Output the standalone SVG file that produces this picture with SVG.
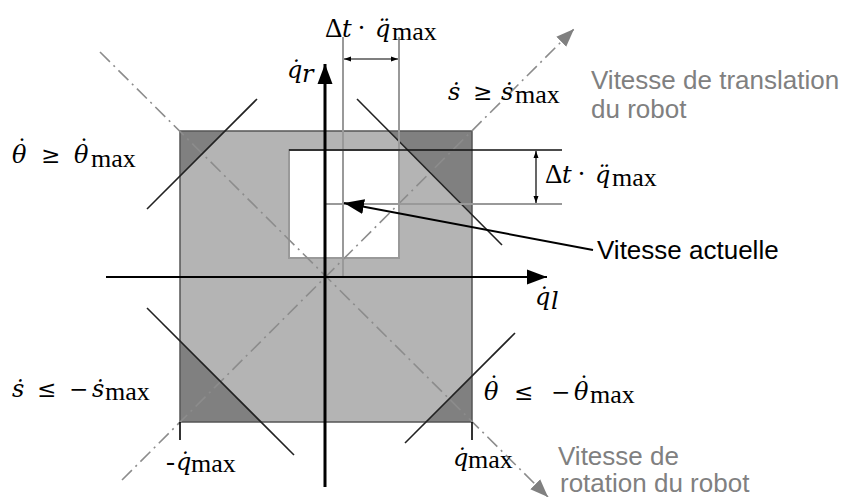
<svg xmlns="http://www.w3.org/2000/svg" width="848" height="497" viewBox="0 0 848 497">
<style>
.m{font-family:"Liberation Serif","DejaVu Serif",serif;font-size:27px;fill:#000}
.i{font-family:"DejaVu Serif","Liberation Serif",serif;font-style:italic;font-size:24px}
.s{font-size:26px;font-style:normal}
.r{font-family:"DejaVu Serif","Liberation Serif",serif;font-size:23px;font-style:normal}
.d{font-family:"DejaVu Serif","Liberation Serif",serif;font-size:24px;text-anchor:middle}
.g{font-family:"Liberation Sans",Arial,sans-serif;font-size:26px;fill:#808080}
.b{font-family:"Liberation Sans",Arial,sans-serif;font-size:26px;fill:#000}
.dd{stroke:#8c8c8c;stroke-width:1.6;stroke-dasharray:14 5 2 5;fill:none}
.lim{stroke:#222;stroke-width:1.6;fill:none}
.gl{stroke:#999;stroke-width:2;fill:none}
</style>
<defs>
<marker id="ga" markerUnits="userSpaceOnUse" markerWidth="20" markerHeight="20" refX="18" refY="10" orient="auto"><path d="M0,3 L18,10 L0,17 Z" fill="#808080"/></marker>
<marker id="ba" markerUnits="userSpaceOnUse" markerWidth="22" markerHeight="22" refX="20" refY="11" orient="auto"><path d="M0,3.5 L20,11 L0,18.5 Z" fill="#000"/></marker>
<marker id="sa" markerUnits="userSpaceOnUse" markerWidth="8" markerHeight="8" refX="7" refY="4" orient="auto-start-reverse"><path d="M0,1.5 L7,4 L0,6.5 Z" fill="#000"/></marker>
</defs>
<rect width="848" height="497" fill="#fff"/>
<g id="region">
<rect x="180" y="131" width="292" height="291" fill="#b4b4b4"/>
<polygon points="180,131 225,131 180,176" fill="#808080"/>
<polygon points="389,131 472,131 472,214" fill="#808080"/>
<polygon points="180,341 180,422 261,422" fill="#808080"/>
<polygon points="472,376 472,422 426,422" fill="#808080"/>
<rect x="180" y="131" width="292" height="291" fill="none" stroke="#555" stroke-width="1.5"/>
</g>
<g id="window">
<rect x="289" y="150" width="110" height="108" fill="#fff" stroke="#999" stroke-width="2"/>
</g>
<g id="connectors">
<line class="dd" x1="122" y1="480" x2="574" y2="29" marker-end="url(#ga)"/>
<line class="dd" x1="100" y1="52" x2="548" y2="497" marker-end="url(#ga)"/>
<line class="lim" x1="147" y1="209" x2="257" y2="99"/>
<line class="lim" x1="357" y1="99" x2="502" y2="245"/>
<line class="lim" x1="147" y1="308" x2="294" y2="455"/>
<line class="lim" x1="405" y1="443" x2="515" y2="333"/>
<line class="gl" x1="343" y1="37" x2="343" y2="277"/>
<line class="gl" x1="399" y1="37" x2="399" y2="258"/>
<line class="gl" x1="325" y1="204" x2="562" y2="204"/>
<line x1="289" y1="150" x2="562" y2="150" stroke="#111" stroke-width="1.6"/>
<line x1="344" y1="59" x2="398" y2="59" stroke="#000" stroke-width="1.2" marker-start="url(#sa)" marker-end="url(#sa)"/>
<line x1="536" y1="151" x2="536" y2="203" stroke="#000" stroke-width="1.2" marker-start="url(#sa)" marker-end="url(#sa)"/>
<line x1="180" y1="422" x2="180" y2="440" stroke="#000" stroke-width="1.6"/>
<line x1="472" y1="422" x2="472" y2="440" stroke="#000" stroke-width="1.6"/>
<line x1="325" y1="487" x2="325" y2="64" stroke="#000" stroke-width="3" marker-end="url(#ba)"/>
<line x1="106" y1="277" x2="547" y2="277" stroke="#000" stroke-width="2.2" marker-end="url(#ba)"/>
<line x1="593" y1="250" x2="344" y2="203" stroke="#000" stroke-width="2" marker-end="url(#ba)"/>
</g>
<g id="labels">
<text class="m" y="37"><tspan x="325">Δ</tspan><tspan x="342" class="i">t</tspan><tspan x="357">·</tspan><tspan x="375" class="i">q̈</tspan><tspan x="392" y="40" class="s">max</tspan></text>
<text class="m" y="183"><tspan x="545">Δ</tspan><tspan x="562" class="i">t</tspan><tspan x="577">·</tspan><tspan x="595" class="i">q̈</tspan><tspan x="612" y="186" class="s">max</tspan></text>
<text class="m" y="78"><tspan x="287" class="i">q̇</tspan><tspan x="302" y="82" class="i">r</tspan></text>
<text class="m" y="305"><tspan x="535" class="i">q̇</tspan><tspan x="551" y="309" class="i">l</tspan></text>
<text class="m" y="163"><tspan x="12" class="i">θ</tspan><tspan x="22" y="157" class="d">˙</tspan><tspan x="41" y="163" class="r">≥</tspan><tspan x="74" class="i">θ</tspan><tspan x="84" y="157" class="d">˙</tspan><tspan x="91" y="167" class="s">max</tspan></text>
<text class="m" y="100"><tspan x="448" class="i">ṡ</tspan><tspan x="473" class="r">≥</tspan><tspan x="501" class="i">ṡ</tspan><tspan x="515" y="103" class="s">max</tspan></text>
<text class="m" y="397"><tspan x="12" class="i">ṡ</tspan><tspan x="37" class="r">≤</tspan><tspan x="69" class="r">−</tspan><tspan x="92" class="i">ṡ</tspan><tspan x="105" y="400" class="s">max</tspan></text>
<text class="m" y="400"><tspan x="484" class="i">θ</tspan><tspan x="494" y="394" class="d">˙</tspan><tspan x="514" y="400" class="r">≤</tspan><tspan x="551" class="r">−</tspan><tspan x="574" class="i">θ</tspan><tspan x="584" y="394" class="d">˙</tspan><tspan x="590" y="403" class="s">max</tspan></text>
<text class="m" y="470"><tspan x="166">-</tspan><tspan x="176" class="i">q̇</tspan><tspan x="191" y="472" class="s">max</tspan></text>
<text class="m" y="466"><tspan x="453" class="i">q̇</tspan><tspan x="468" y="468" class="s">max</tspan></text>
<text class="g" x="591" y="89">Vitesse de translation</text>
<text class="g" x="591" y="118">du robot</text>
<text class="g" x="558" y="465">Vitesse de</text>
<text class="g" x="560" y="492">rotation du robot</text>
<text class="b" x="597" y="259">Vitesse actuelle</text>
</g>
</svg>
